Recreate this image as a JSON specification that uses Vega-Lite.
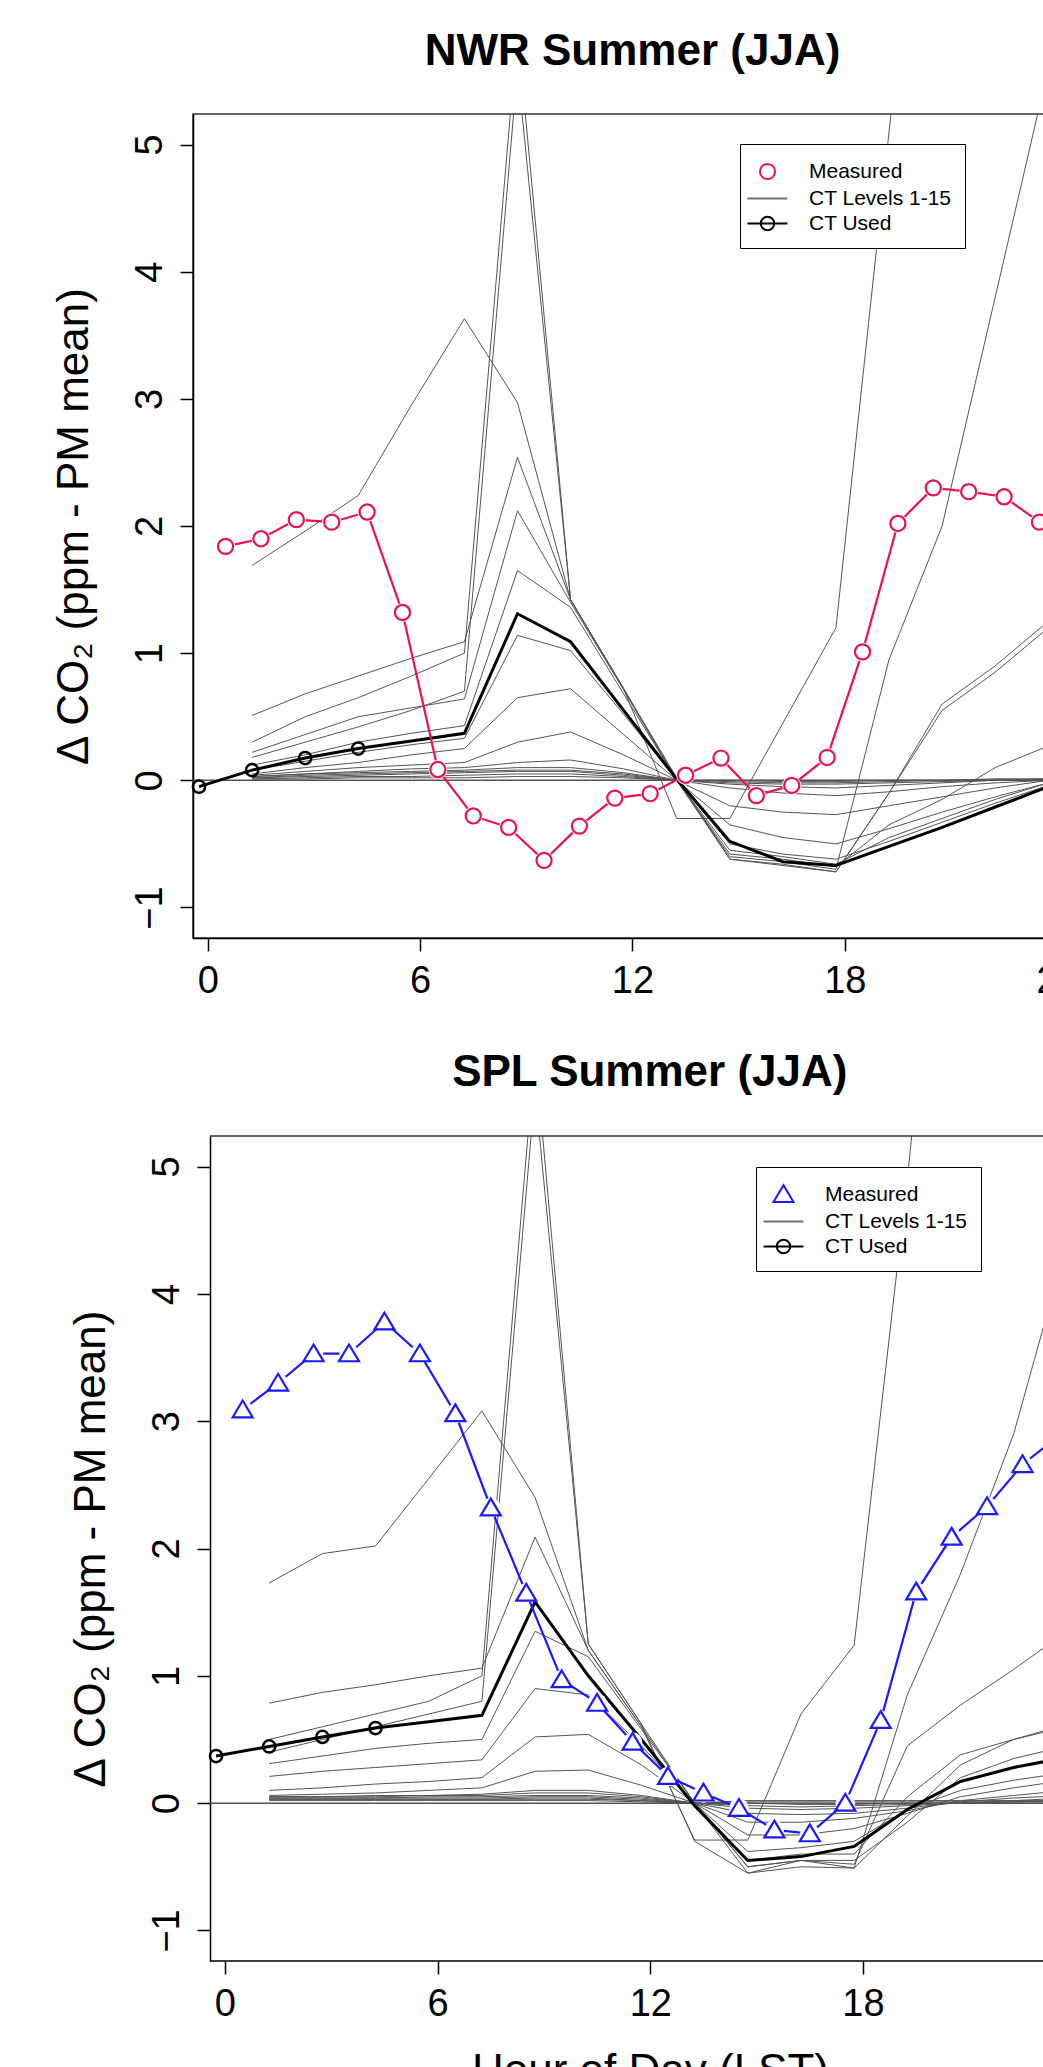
{
  "$schema": "https://vega.github.io/schema/vega-lite/v6.json",
  "background": "white",
  "padding": {"left": 51, "top": 29, "right": 0, "bottom": 0},
  "config": {
    "font": "Liberation Sans",
    "view": {"stroke": "#333", "strokeWidth": 1.5},
    "axis": {"grid": false, "domainColor": "black", "tickColor": "black", "labelColor": "black", "titleColor": "black", "labelFont": "Liberation Sans", "titleFont": "Liberation Sans", "labelFontSize": 38, "titleFontSize": 44, "titleFontWeight": "normal", "tickSize": 13, "domainWidth": 1.5, "tickWidth": 1.5, "labelFlush": false, "labelOverlap": false},
    "title": {"fontSize": 44, "font": "Liberation Sans", "fontWeight": "bold", "anchor": "middle", "frame": "group", "offset": 40, "color": "black"}
  },
  "datasets": {
    "nwr_meas": [
      {"hour": 0.5, "value": 1.84}, {"hour": 1.5, "value": 1.9}, {"hour": 2.5, "value": 2.05}, {"hour": 3.5, "value": 2.03},
      {"hour": 4.5, "value": 2.11}, {"hour": 5.5, "value": 1.32}, {"hour": 6.5, "value": 0.085}, {"hour": 7.5, "value": -0.28},
      {"hour": 8.5, "value": -0.37}, {"hour": 9.5, "value": -0.63}, {"hour": 10.5, "value": -0.36}, {"hour": 11.5, "value": -0.14},
      {"hour": 12.5, "value": -0.105}, {"hour": 13.5, "value": 0.04}, {"hour": 14.5, "value": 0.175}, {"hour": 15.5, "value": -0.12},
      {"hour": 16.5, "value": -0.04}, {"hour": 17.5, "value": 0.18}, {"hour": 18.5, "value": 1.01}, {"hour": 19.5, "value": 2.02},
      {"hour": 20.5, "value": 2.3}, {"hour": 21.5, "value": 2.27}, {"hour": 22.5, "value": 2.23}, {"hour": 23.5, "value": 2.03}
    ],
    "nwr_used": [
      {"hour": -0.25, "value": -0.05}, {"hour": 1.25, "value": 0.08}, {"hour": 2.75, "value": 0.175}, {"hour": 4.25, "value": 0.25},
      {"hour": 5.75, "value": 0.31}, {"hour": 7.25, "value": 0.37}, {"hour": 8.75, "value": 1.31}, {"hour": 10.25, "value": 1.09},
      {"hour": 11.75, "value": 0.55}, {"hour": 13.25, "value": 0.01}, {"hour": 14.75, "value": -0.48}, {"hour": 16.25, "value": -0.64},
      {"hour": 17.75, "value": -0.67}, {"hour": 19.25, "value": -0.52}, {"hour": 20.75, "value": -0.37}, {"hour": 22.25, "value": -0.21},
      {"hour": 23.75, "value": -0.05}
    ],
    "nwr_levels": [
      {"level": 1, "hour": [1.25,2.75,4.25,5.75,7.25,8.75,10.25,11.75,13.25,14.75,16.25,17.75,19.25,20.75,22.25,23.75], "value": [1.69,1.96,2.24,2.95,3.63,2.97,1.42,0.72,0.02,-0.62,-0.66,-0.72,-0.1,0.55,0.85,1.2]},
      {"level": 2, "hour": [1.25,2.75,4.25,5.75,7.25,8.75,10.25,11.75,13.25,14.75,16.25,17.75,19.25,20.75,22.25,23.75], "value": [0.51,0.68,0.82,0.96,1.09,2.54,1.42,0.72,0.0,-0.6,-0.64,-0.7,0.95,2.0,3.8,5.6]},
      {"level": 3, "hour": [1.25,2.75,4.25,5.75,7.25,8.75,10.25,11.75,13.25,14.75,16.25,17.75,19.25,20.75,22.25,23.75], "value": [0.22,0.36,0.5,0.57,0.64,2.12,1.4,0.71,0.0,-0.58,-0.62,-0.68,-0.35,-0.15,0.1,0.27]},
      {"level": 4, "hour": [1.25,2.75,4.25,5.75,7.25,8.75,10.25,11.75,13.25,14.75,16.25,17.75,19.25,20.75,22.25,23.75], "value": [0.12,0.2,0.3,0.37,0.43,1.65,1.36,0.68,0.0,-0.55,-0.6,-0.66,-0.45,-0.3,-0.15,-0.02]},
      {"level": 5, "hour": [1.25,2.75,4.25,5.75,7.25,8.75,10.25,11.75,13.25,14.75,16.25,17.75,19.25,20.75,22.25,23.75], "value": [0.08,0.15,0.22,0.28,0.33,1.14,1.02,0.52,0.0,-0.5,-0.58,-0.62,-0.48,-0.33,-0.18,-0.04]},
      {"level": 6, "hour": [1.25,2.75,4.25,5.75,7.25,8.75,10.25,11.75,13.25,14.75,16.25,17.75,19.25,20.75,22.25,23.75], "value": [0.05,0.1,0.14,0.2,0.25,0.65,0.72,0.36,0.0,-0.35,-0.45,-0.5,-0.38,-0.25,-0.13,-0.02]},
      {"level": 7, "hour": [1.25,2.75,4.25,5.75,7.25,8.75,10.25,11.75,13.25,14.75,16.25,17.75,19.25,20.75,22.25,23.75], "value": [0.04,0.07,0.1,0.12,0.14,0.3,0.38,0.2,0.0,-0.2,-0.25,-0.27,-0.2,-0.13,-0.06,0.0]},
      {"level": 8, "hour": [1.25,2.75,4.25,5.75,7.25,8.75,10.25,11.75,13.25,14.75,16.25,17.75,19.25,20.75,22.25,23.75], "value": [0.03,0.05,0.07,0.09,0.1,0.14,0.16,0.09,0.0,-0.06,-0.1,-0.12,-0.09,-0.05,-0.02,0.0]},
      {"level": 9, "hour": [1.25,2.75,4.25,5.75,7.25,8.75,10.25,11.75,13.25,14.75,16.25,17.75,19.25,20.75,22.25,23.75], "value": [0.03,0.05,0.06,0.07,0.08,0.1,0.1,0.06,0.0,-0.03,-0.05,-0.06,-0.04,-0.02,0.0,0.01]},
      {"level": 10, "hour": [1.25,2.75,4.25,5.75,7.25,8.75,10.25,11.75,13.25,14.75,16.25,17.75,19.25,20.75,22.25,23.75], "value": [0.02,0.04,0.05,0.06,0.07,0.08,0.08,0.05,0.0,-0.02,-0.03,-0.03,-0.02,-0.01,0.0,0.01]},
      {"level": 11, "hour": [1.25,2.75,4.25,5.75,7.25,8.75,10.25,11.75,13.25,14.75,16.25,17.75,19.25,20.75,22.25,23.75], "value": [0.02,0.03,0.04,0.05,0.06,0.07,0.07,0.04,0.0,-0.01,-0.02,-0.02,-0.01,0.0,0.01,0.01]},
      {"level": 12, "hour": [1.25,2.75,4.25,5.75,7.25,8.75,10.25,11.75,13.25,14.75,16.25,17.75,19.25,20.75,22.25,23.75], "value": [0.01,0.02,0.03,0.03,0.04,0.05,0.05,0.03,0.0,0.0,-0.01,-0.01,0.0,0.0,0.01,0.01]},
      {"level": 13, "hour": [1.25,2.75,4.25,5.75,7.25,8.75,10.25,11.75,13.25,14.75,16.25,17.75,19.25,20.75,22.25,23.75], "value": [0.01,0.01,0.02,0.02,0.02,0.03,0.03,0.02,0.0,0.0,0.0,0.0,0.0,0.0,0.0,0.01]},
      {"level": 14, "hour": [1.25,2.75,4.25,5.75,7.25,8.75,10.25,11.75,13.25,14.75,16.25,17.75,19.25,20.75,22.25,23.75], "value": [0.3,0.5,0.65,0.82,1.0,5.9,1.42,0.72,-0.3,-0.3,0.45,1.2,5.1,9.0,12.0,14.0]},
      {"level": 15, "hour": [1.25,2.75,4.25,5.75,7.25,8.75,10.25,11.75,13.25,14.75,16.25,17.75,19.25,20.75,22.25,23.75], "value": [0.18,0.3,0.42,0.55,0.7,5.6,1.42,0.72,0.0,-0.62,-0.67,-0.72,-0.1,0.6,0.9,1.25]}
    ],
    "spl_meas": [
      {"hour": 0.5, "value": 3.09}, {"hour": 1.5, "value": 3.3}, {"hour": 2.5, "value": 3.53}, {"hour": 3.5, "value": 3.53},
      {"hour": 4.5, "value": 3.78}, {"hour": 5.5, "value": 3.53}, {"hour": 6.5, "value": 3.06}, {"hour": 7.5, "value": 2.32},
      {"hour": 8.5, "value": 1.65}, {"hour": 9.5, "value": 0.97}, {"hour": 10.5, "value": 0.785}, {"hour": 11.5, "value": 0.48},
      {"hour": 12.5, "value": 0.21}, {"hour": 13.5, "value": 0.08}, {"hour": 14.5, "value": -0.04}, {"hour": 15.5, "value": -0.21},
      {"hour": 16.5, "value": -0.24}, {"hour": 17.5, "value": 0.0}, {"hour": 18.5, "value": 0.65}, {"hour": 19.5, "value": 1.66},
      {"hour": 20.5, "value": 2.09}, {"hour": 21.5, "value": 2.33}, {"hour": 22.5, "value": 2.66}, {"hour": 23.5, "value": 2.88}
    ],
    "spl_used": [
      {"hour": -0.25, "value": 0.37}, {"hour": 1.25, "value": 0.445}, {"hour": 2.75, "value": 0.52}, {"hour": 4.25, "value": 0.59},
      {"hour": 5.75, "value": 0.64}, {"hour": 7.25, "value": 0.69}, {"hour": 8.75, "value": 1.58}, {"hour": 10.25, "value": 1.0},
      {"hour": 11.75, "value": 0.5}, {"hour": 13.25, "value": -0.02}, {"hour": 14.75, "value": -0.45}, {"hour": 16.25, "value": -0.42},
      {"hour": 17.75, "value": -0.34}, {"hour": 19.25, "value": -0.05}, {"hour": 20.75, "value": 0.17}, {"hour": 22.25, "value": 0.28},
      {"hour": 23.75, "value": 0.36}
    ],
    "spl_levels": [
      {"level": 1, "hour": [1.25,2.75,4.25,5.75,7.25,8.75,10.25,11.75,13.25,14.75,16.25,17.75,19.25,20.75,22.25,23.75], "value": [1.73,1.96,2.02,2.55,3.08,2.4,1.2,0.6,-0.29,-0.29,0.7,1.24,4.9,9.0,12.0,15.0]},
      {"level": 2, "hour": [1.25,2.75,4.25,5.75,7.25,8.75,10.25,11.75,13.25,14.75,16.25,17.75,19.25,20.75,22.25,23.75], "value": [0.785,0.87,0.93,1.0,1.06,2.09,1.2,0.6,0.0,-0.55,-0.5,-0.51,0.85,1.8,2.9,4.4]},
      {"level": 3, "hour": [1.25,2.75,4.25,5.75,7.25,8.75,10.25,11.75,13.25,14.75,16.25,17.75,19.25,20.75,22.25,23.75], "value": [0.31,0.37,0.43,0.47,0.5,1.35,1.15,0.58,0.0,-0.5,-0.45,-0.48,0.45,0.77,1.05,1.35]},
      {"level": 4, "hour": [1.25,2.75,4.25,5.75,7.25,8.75,10.25,11.75,13.25,14.75,16.25,17.75,19.25,20.75,22.25,23.75], "value": [0.21,0.25,0.28,0.31,0.34,0.9,0.85,0.45,0.0,-0.45,-0.4,-0.4,0.05,0.38,0.5,0.62]},
      {"level": 5, "hour": [1.25,2.75,4.25,5.75,7.25,8.75,10.25,11.75,13.25,14.75,16.25,17.75,19.25,20.75,22.25,23.75], "value": [0.1,0.12,0.15,0.17,0.2,0.52,0.54,0.3,0.0,-0.38,-0.35,-0.3,-0.05,0.1,0.18,0.24]},
      {"level": 6, "hour": [1.25,2.75,4.25,5.75,7.25,8.75,10.25,11.75,13.25,14.75,16.25,17.75,19.25,20.75,22.25,23.75], "value": [0.06,0.07,0.08,0.1,0.12,0.25,0.26,0.14,0.0,-0.25,-0.25,-0.2,-0.08,0.05,0.12,0.18]},
      {"level": 7, "hour": [1.25,2.75,4.25,5.75,7.25,8.75,10.25,11.75,13.25,14.75,16.25,17.75,19.25,20.75,22.25,23.75], "value": [0.05,0.05,0.06,0.06,0.07,0.1,0.1,0.06,0.0,-0.15,-0.15,-0.12,-0.06,0.02,0.06,0.1]},
      {"level": 8, "hour": [1.25,2.75,4.25,5.75,7.25,8.75,10.25,11.75,13.25,14.75,16.25,17.75,19.25,20.75,22.25,23.75], "value": [0.05,0.05,0.05,0.06,0.06,0.08,0.08,0.05,0.0,-0.08,-0.09,-0.08,-0.04,0.01,0.04,0.06]},
      {"level": 9, "hour": [1.25,2.75,4.25,5.75,7.25,8.75,10.25,11.75,13.25,14.75,16.25,17.75,19.25,20.75,22.25,23.75], "value": [0.04,0.04,0.04,0.05,0.05,0.06,0.06,0.04,0.0,-0.04,-0.05,-0.04,-0.02,0.0,0.02,0.04]},
      {"level": 10, "hour": [1.25,2.75,4.25,5.75,7.25,8.75,10.25,11.75,13.25,14.75,16.25,17.75,19.25,20.75,22.25,23.75], "value": [0.04,0.04,0.04,0.04,0.04,0.05,0.05,0.03,0.0,-0.02,-0.03,-0.02,-0.01,0.0,0.01,0.02]},
      {"level": 11, "hour": [1.25,2.75,4.25,5.75,7.25,8.75,10.25,11.75,13.25,14.75,16.25,17.75,19.25,20.75,22.25,23.75], "value": [0.03,0.03,0.03,0.03,0.03,0.04,0.04,0.02,0.0,0.0,-0.01,-0.01,0.0,0.0,0.01,0.01]},
      {"level": 12, "hour": [1.25,2.75,4.25,5.75,7.25,8.75,10.25,11.75,13.25,14.75,16.25,17.75,19.25,20.75,22.25,23.75], "value": [0.03,0.03,0.03,0.03,0.03,0.03,0.03,0.02,0.0,0.01,0.01,0.01,0.01,0.01,0.01,0.01]},
      {"level": 13, "hour": [1.25,2.75,4.25,5.75,7.25,8.75,10.25,11.75,13.25,14.75,16.25,17.75,19.25,20.75,22.25,23.75], "value": [0.02,0.02,0.02,0.02,0.02,0.02,0.02,0.01,0.0,0.02,0.02,0.02,0.02,0.02,0.02,0.02]},
      {"level": 14, "hour": [1.25,2.75,4.25,5.75,7.25,8.75,10.25,11.75,13.25,14.75,16.25,17.75,19.25,20.75,22.25,23.75], "value": [0.5,0.6,0.7,0.8,1.0,5.9,1.25,0.62,-0.3,-0.55,-0.45,-0.51,-0.1,0.3,0.5,0.6]},
      {"level": 15, "hour": [1.25,2.75,4.25,5.75,7.25,8.75,10.25,11.75,13.25,14.75,16.25,17.75,19.25,20.75,22.25,23.75], "value": [0.4,0.5,0.6,0.7,0.8,5.6,1.25,0.62,0.0,-0.5,-0.45,-0.45,-0.15,0.2,0.35,0.45]}
    ]
  },
  "spacing": 50,
  "resolve": {"scale": {"x": "independent", "y": "independent", "color": "independent", "shape": "independent"}},
  "vconcat": [
    {
      "title": {"text": "NWR Summer (JJA)"},
      "width": 879,
      "height": 824,
      "layer": [
        {
          "data": {"name": "nwr_levels"},
          "transform": [{"flatten": ["hour", "value"]}],
          "mark": {"type": "line", "color": "#555555", "strokeWidth": 1, "clip": true},
          "encoding": {
            "x": {"field": "hour", "type": "quantitative", "scale": {"domain": [-0.42, 24.42], "nice": false, "zero": false},
                  "axis": {"values": [0, 6, 12, 18, 24], "format": "d", "title": null, "labelAngle": 0, "labelPadding": 11}},
            "y": {"field": "value", "type": "quantitative", "scale": {"domain": [-1.24, 5.24], "nice": false, "zero": false},
                  "axis": {"values": [-1, 0, 1, 2, 3, 4, 5], "format": "d", "title": "Δ CO₂ (ppm - PM mean)", "labelAngle": 270, "labelAlign": "center", "labelBaseline": "bottom", "labelPadding": 11, "titlePadding": 35}},
            "detail": {"field": "level", "type": "nominal"}
          }
        },
        {
          "data": {"values": [{}]},
          "mark": {"type": "rule", "color": "#555555", "strokeWidth": 1.5},
          "encoding": {"y": {"datum": 0}}
        },
        {
          "data": {"name": "nwr_used"},
          "mark": {"type": "line", "color": "black", "strokeWidth": 3, "clip": true},
          "encoding": {"x": {"field": "hour", "type": "quantitative"}, "y": {"field": "value", "type": "quantitative"}}
        },
        {
          "data": {"name": "nwr_used"},
          "transform": [{"filter": "datum.hour < 5"}],
          "mark": {"type": "point", "shape": "circle", "filled": false, "color": "black", "size": 150, "strokeWidth": 2.5, "opacity": 1},
          "encoding": {"x": {"field": "hour", "type": "quantitative"}, "y": {"field": "value", "type": "quantitative"}}
        },
        {
          "data": {"name": "nwr_meas"},
          "mark": {"type": "line", "color": "#ec1250", "strokeWidth": 2.2, "clip": true},
          "encoding": {"x": {"field": "hour", "type": "quantitative"}, "y": {"field": "value", "type": "quantitative"}}
        },
        {
          "data": {"name": "nwr_meas"},
          "mark": {"type": "point", "shape": "circle", "filled": true, "color": "white", "size": 360, "opacity": 1},
          "encoding": {"x": {"field": "hour", "type": "quantitative"}, "y": {"field": "value", "type": "quantitative"}}
        },
        {
          "data": {"name": "nwr_meas"},
          "mark": {"type": "point", "filled": false, "size": 729, "strokeWidth": 2.2, "opacity": 1},
          "encoding": {
            "x": {"field": "hour", "type": "quantitative"},
            "y": {"field": "value", "type": "quantitative"},
            "shape": {"datum": "Measured",
                      "scale": {"domain": ["Measured", "CT Levels 1-15", "CT Used"],
                                "range": ["M0.56,0A0.56,0.56 0 1,1 -0.56,0A0.56,0.56 0 1,1 0.56,0Z", "M-1.48,0L1.48,0", "M-1.48,0L1.48,0M0.5,0A0.5,0.5 0 1,1 -0.5,0A0.5,0.5 0 1,1 0.5,0Z"]},
                      "legend": {"title": null, "orient": "none", "legendX": 547, "legendY": 30, "strokeColor": "black", "fillColor": "white", "padding": 13, "symbolSize": 729, "symbolStrokeWidth": 2, "labelFontSize": 21, "labelFont": "Liberation Sans", "labelColor": "black", "labelOffset": 27, "rowPadding": 0}},
            "color": {"datum": "Measured",
                      "scale": {"domain": ["Measured", "CT Levels 1-15", "CT Used"], "range": ["#ec1250", "#707070", "#000000"]},
                      "legend": {"title": null, "orient": "none", "legendX": 547, "legendY": 30, "strokeColor": "black", "fillColor": "white", "padding": 13, "symbolSize": 729, "symbolStrokeWidth": 2, "labelFontSize": 21, "labelFont": "Liberation Sans", "labelColor": "black", "labelOffset": 27, "rowPadding": 0}}
          }
        }
      ]
    },
    {
      "title": {"text": "SPL Summer (JJA)", "dx": 8},
      "width": 897.6,
      "height": 825,
      "view": {"stroke": null},
      "layer": [
        {
          "data": {"name": "spl_levels"},
          "transform": [{"flatten": ["hour", "value"]}],
          "mark": {"type": "line", "color": "#555555", "strokeWidth": 1, "clip": true},
          "encoding": {
            "x": {"field": "hour", "type": "quantitative", "scale": {"domain": [-0.9, 24.42], "nice": false, "zero": false},
                  "axis": {"values": [0, 6, 12, 18], "format": "d", "title": "Hour of Day (LST)", "domain": false, "labelAngle": 0, "labelPadding": 11, "titlePadding": 26, "titleX": 457, "titleAlign": "center"}},
            "y": {"field": "value", "type": "quantitative", "scale": {"domain": [-1.24, 5.24], "nice": false, "zero": false},
                  "axis": {"values": [-1, 0, 1, 2, 3, 4, 5], "format": "d", "title": "Δ CO₂ (ppm - PM mean)", "offset": -17, "labelAngle": 270, "labelAlign": "center", "labelBaseline": "bottom", "labelPadding": 11, "titlePadding": 35}},
            "detail": {"field": "level", "type": "nominal"}
          }
        },
        {
          "data": {"values": [{}]},
          "mark": {"type": "rule", "color": "#555555", "strokeWidth": 1.5},
          "encoding": {"y": {"datum": 0}, "x": {"datum": -0.42}, "x2": {"datum": 24.42}}
        },
        {
          "data": {"values": [{}]},
          "mark": {"type": "rule", "color": "#333333", "strokeWidth": 1.5},
          "encoding": {"y": {"datum": 5.24}, "x": {"datum": -0.42}, "x2": {"datum": 24.42}}
        },
        {
          "data": {"values": [{}]},
          "mark": {"type": "rule", "color": "black", "strokeWidth": 1.5},
          "encoding": {"y": {"datum": -1.24}, "x": {"datum": -0.42}, "x2": {"datum": 24.42}}
        },
        {
          "data": {"name": "spl_used"},
          "mark": {"type": "line", "color": "black", "strokeWidth": 3, "clip": true},
          "encoding": {"x": {"field": "hour", "type": "quantitative"}, "y": {"field": "value", "type": "quantitative"}}
        },
        {
          "data": {"name": "spl_used"},
          "transform": [{"filter": "datum.hour < 5"}],
          "mark": {"type": "point", "shape": "circle", "filled": false, "color": "black", "size": 150, "strokeWidth": 2.5, "opacity": 1},
          "encoding": {"x": {"field": "hour", "type": "quantitative"}, "y": {"field": "value", "type": "quantitative"}}
        },
        {
          "data": {"name": "spl_meas"},
          "mark": {"type": "line", "color": "#1a1aff", "strokeWidth": 2.2, "clip": true},
          "encoding": {"x": {"field": "hour", "type": "quantitative"}, "y": {"field": "value", "type": "quantitative"}}
        },
        {
          "data": {"name": "spl_meas"},
          "mark": {"type": "point", "shape": "circle", "filled": true, "color": "white", "size": 380, "opacity": 1},
          "encoding": {"x": {"field": "hour", "type": "quantitative"}, "y": {"field": "value", "type": "quantitative"}}
        },
        {
          "data": {"name": "spl_meas"},
          "mark": {"type": "point", "filled": false, "size": 729, "strokeWidth": 2.2, "opacity": 1},
          "encoding": {
            "x": {"field": "hour", "type": "quantitative"},
            "y": {"field": "value", "type": "quantitative"},
            "shape": {"datum": "Measured",
                      "scale": {"domain": ["Measured", "CT Levels 1-15", "CT Used"],
                                "range": ["M0,-0.68L0.74,0.56L-0.74,0.56Z", "M-1.48,0L1.48,0", "M-1.48,0L1.48,0M0.5,0A0.5,0.5 0 1,1 -0.5,0A0.5,0.5 0 1,1 0.5,0Z"]},
                      "legend": {"title": null, "orient": "none", "legendX": 563, "legendY": 31, "strokeColor": "black", "fillColor": "white", "padding": 13, "symbolSize": 729, "symbolStrokeWidth": 2, "labelFontSize": 21, "labelFont": "Liberation Sans", "labelColor": "black", "labelOffset": 27, "rowPadding": 0}},
            "color": {"datum": "Measured",
                      "scale": {"domain": ["Measured", "CT Levels 1-15", "CT Used"], "range": ["#1a1aff", "#707070", "#000000"]},
                      "legend": {"title": null, "orient": "none", "legendX": 563, "legendY": 31, "strokeColor": "black", "fillColor": "white", "padding": 13, "symbolSize": 729, "symbolStrokeWidth": 2, "labelFontSize": 21, "labelFont": "Liberation Sans", "labelColor": "black", "labelOffset": 27, "rowPadding": 0}}
          }
        }
      ]
    }
  ]
}
